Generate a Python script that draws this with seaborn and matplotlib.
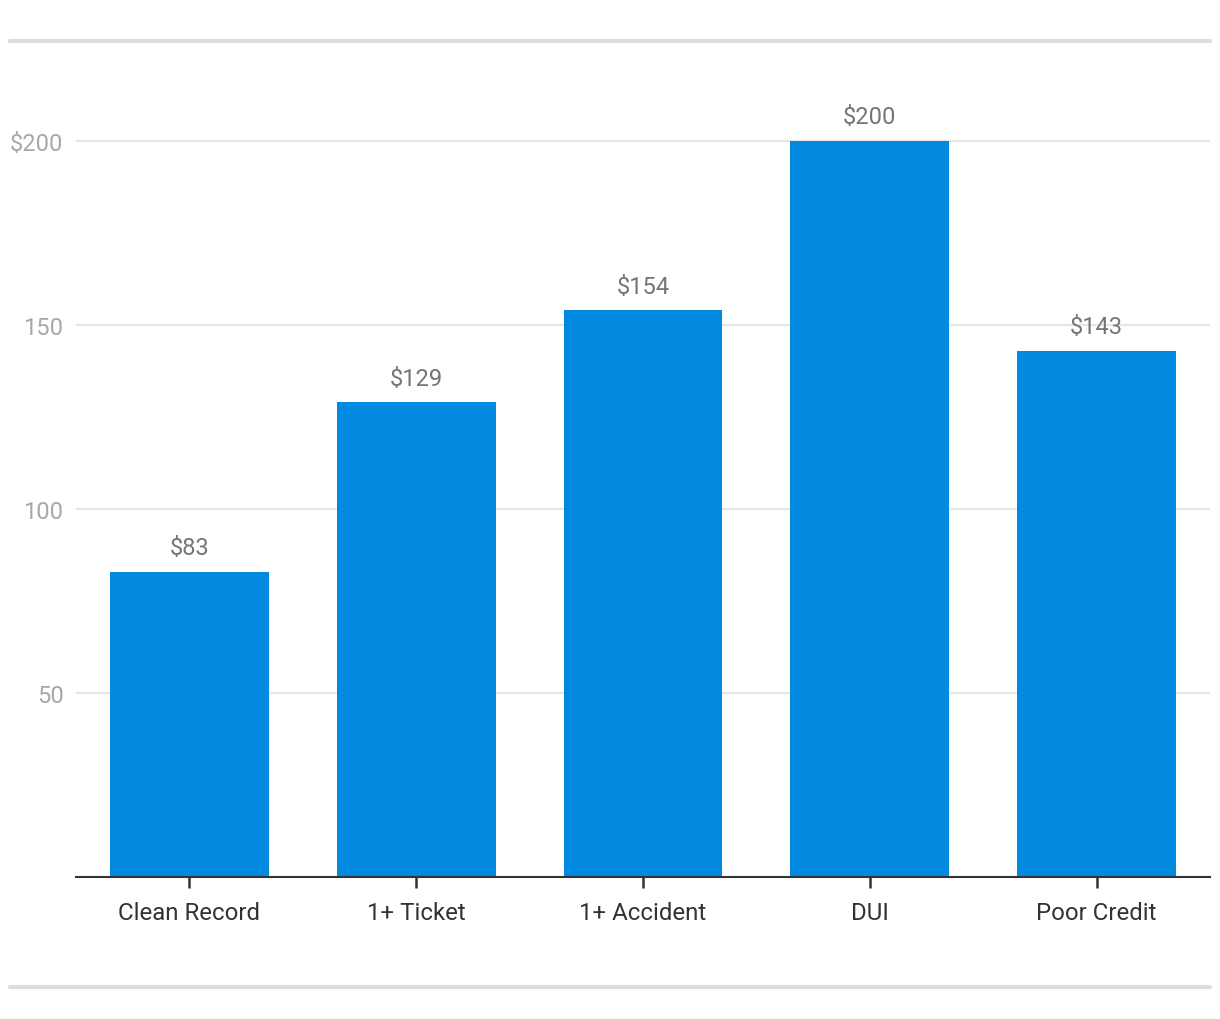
import matplotlib
matplotlib.use("Agg")
import matplotlib.pyplot as plt
import seaborn as sns
import pandas as pd
from matplotlib.lines import Line2D

categories = ["Clean Record", "1+ Ticket", "1+ Accident", "DUI", "Poor Credit"]
values = [83, 129, 154, 200, 143]
ytick_values = [50, 100, 150, 200]
ytick_labels = ["50", "100", "150", "$200"]

sns.set_theme(style="white")
plt.rcParams["font.family"] = ["Roboto", "DejaVu Sans"]

df = pd.DataFrame({"category": categories, "value": values})

fig = plt.figure(figsize=(12.2, 10.2), dpi=100)
ax = fig.add_axes([76/1220, (1020-878)/1020, (1210-76)/1220, (878-60)/1020])

sns.barplot(data=df, x="category", y="value", color="#028AE0", saturation=1,
            width=0.7, ax=ax, zorder=3, linewidth=0)

ax.set_xlim(-0.5, 4.5)
ax.set_ylim(0, (878-60)/3.68)
ax.set_yticks(ytick_values)
ax.set_yticklabels(ytick_labels)
ax.yaxis.grid(True, color="#e6e6e6", linewidth=1.5, zorder=0)
ax.set_axisbelow(True)
ax.set_xlabel("")
ax.set_ylabel("")

for s in ["top", "right", "left"]:
    ax.spines[s].set_visible(False)
ax.spines["bottom"].set_color("#333333")
ax.spines["bottom"].set_linewidth(1.5)
ax.spines["bottom"].set_zorder(5)

ax.tick_params(axis="y", length=0, pad=9, labelsize=17, labelcolor="#a8a8a8")
ax.tick_params(axis="x", direction="out", length=8, width=1.8, color="#333333",
               pad=9, labelsize=17.3, labelcolor="#333333", bottom=True)

for i, v in enumerate(values):
    ax.annotate(f"${v}", (i, v), xytext=(0, 9), textcoords="offset points",
                ha="center", va="bottom", fontsize=17, color="#757575")

for y in [41.5, 988]:
    fig.add_artist(Line2D([10/1220, 1210/1220], [1 - y/1020, 1 - y/1020],
                          color="#dddddd", linewidth=3, transform=fig.transFigure))

fig.savefig("out.png", dpi=100, facecolor="white")
